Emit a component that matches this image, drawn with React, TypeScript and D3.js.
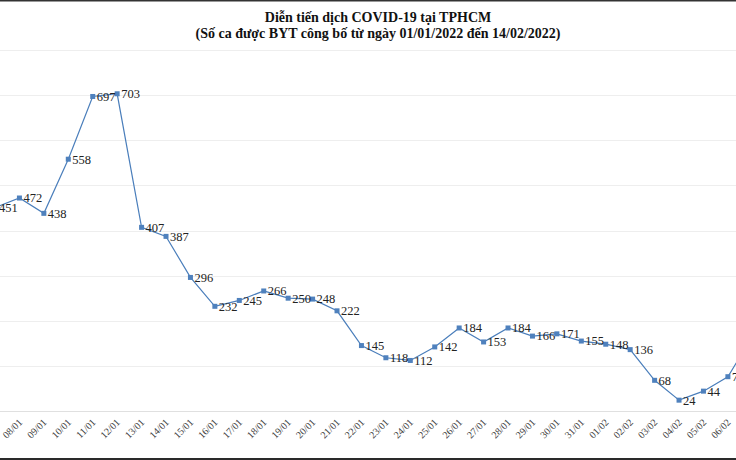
import React from "react";
import * as d3 from "d3";

const categories = [
  "07/01", "08/01", "09/01", "10/01", "11/01", "12/01", "13/01", "14/01", "15/01", "16/01",
  "17/01", "18/01", "19/01", "20/01", "21/01", "22/01", "23/01", "24/01", "25/01", "26/01",
  "27/01", "28/01", "29/01", "30/01", "31/01", "01/02", "02/02", "03/02", "04/02", "05/02",
  "06/02", "07/02",
];
const values = [
  451, 472, 438, 558, 697, 703, 407, 387, 296, 232,
  245, 266, 250, 248, 222, 145, 118, 112, 142, 184,
  153, 184, 166, 171, 155, 148, 136, 68, 24, 44,
  76, 165,
];
const yTicks = [0, 100, 200, 300, 400, 500, 600, 700, 800];
const titleLines = [
  "Diễn tiến dịch COVID-19 tại TPHCM",
  "(Số ca được BYT công bố từ ngày 01/01/2022 đến 14/02/2022)",
];

const W = 736;
const H = 460;
const FONT = "'Liberation Serif', 'Times New Roman', serif";
const LINE = "#4a7ebb";

export default function App() {
  const step = 24.43;
  const x0 = -5;
  const x = d3
    .scalePoint<string>()
    .domain(categories)
    .range([x0, x0 + step * (categories.length - 1)]);
  const y = d3.scaleLinear().domain([0, 800]).range([411, 50]);

  const pts = categories.map((c, i) => ({ c, v: values[i] }));
  const line = d3
    .line<{ c: string; v: number }>()
    .x((d) => x(d.c) as number)
    .y((d) => y(d.v));
  const inView = (c: string) => {
    const px = x(c) as number;
    return px > -20 && px < W;
  };

  return (
    <div style={{ position: "absolute", left: 0, top: 0, width: W, height: H, overflow: "hidden" }}>
      <svg width={W} height={H} style={{ display: "block", background: "#fff" }}>
        <rect x={0} y={0} width={W} height={1.5} fill="#333" />
        <rect x={0} y={458} width={W} height={2} fill="#2a2a2a" />
        {titleLines.map((t, i) => (
          <text
            key={i}
            x={378}
            y={22 + i * 15.5}
            textAnchor="middle"
            fontFamily={FONT}
            fontWeight="bold"
            fontSize={14}
            fill="#111"
          >
            {t}
          </text>
        ))}
        {yTicks.map((t) => (
          <line
            key={t}
            x1={0}
            x2={W}
            y1={Math.round(y(t)) + 0.5}
            y2={Math.round(y(t)) + 0.5}
            stroke={t === 0 ? "#e0e0e0" : "#eeeeee"}
            strokeWidth={1}
          />
        ))}
        <path d={line(pts) || ""} fill="none" stroke={LINE} strokeWidth={1.2} />
        {pts.map((d) => (
          <rect
            key={"m" + d.c}
            x={(x(d.c) as number) - 2.5}
            y={y(d.v) - 2.5}
            width={5}
            height={5}
            fill="#4f81bd"
          />
        ))}
        {pts.filter((d) => inView(d.c)).map((d) => (
          <text
            key={"l" + d.c}
            x={(x(d.c) as number) + 4}
            y={y(d.v)}
            dy="0.35em"
            fontFamily={FONT}
            fontSize={12.5}
            fill="#222"
          >
            {d.v}
          </text>
        ))}
        {categories.filter((c) => inView(c) && (x(c) as number) > 0).map((c) => (
          <text
            key={"x" + c}
            transform={`translate(${(x(c) as number) + 3.5},${423}) rotate(-45)`}
            textAnchor="end"
            fontFamily={FONT}
            fontSize={10}
            fill="#404040"
          >
            {c}
          </text>
        ))}
      </svg>
    </div>
  );
}
